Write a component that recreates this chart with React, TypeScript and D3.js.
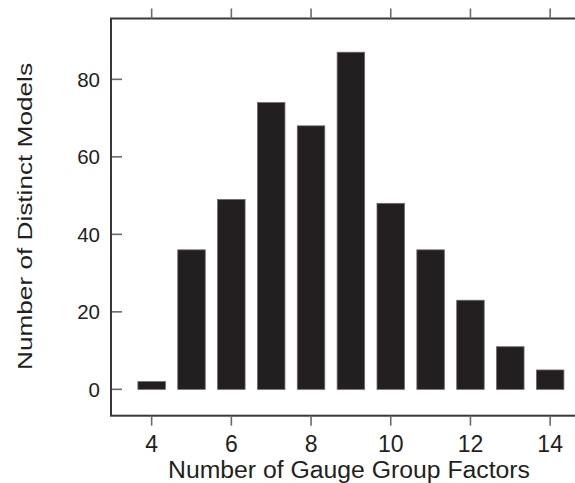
import React from "react";
import * as d3 from "d3";

// histogram: how many distinct models per number of gauge group factors
const factors = [4, 5, 6, 7, 8, 9, 10, 11, 12, 13, 14];
const models = [2, 36, 49, 74, 68, 87, 48, 36, 23, 11, 5];
const xTicks = [4, 6, 8, 10, 12, 14];
const yTicks = [0, 20, 40, 60, 80];
const xTitle = "Number of Gauge Group Factors";
const yTitle = "Number of Distinct Models";

export default function App() {
  const width = 575;
  const height = 483;
  const panel = { left: 111, top: 18.5, right: 590, bottom: 415.7 };
  const ink = "#231f20";
  const font = "'Liberation Sans', Arial, sans-serif";

  const x = d3.scaleLinear().domain([2.98, 15.0]).range([panel.left, panel.right]);
  const y = d3.scaleLinear().domain([-6.8, 95.7]).range([panel.bottom, panel.top]);
  const barW = x(0.69) - x(0);

  return (
    <svg
      width={width}
      height={height}
      style={{ position: "absolute", left: 0, top: 0, background: "#fff" }}
    >
      {/* bars */}
      {factors.map((f, i) => (
        <rect
          key={f}
          x={x(f) - barW / 2}
          y={y(models[i])}
          width={barW}
          height={y(0) - y(models[i])}
          fill={ink}
          stroke="#6d6a6b"
          strokeWidth={0.8}
        />
      ))}

      {/* panel box, right side runs off the page */}
      <rect
        x={panel.left}
        y={panel.top}
        width={panel.right - panel.left}
        height={panel.bottom - panel.top}
        fill="none"
        stroke="#3a3738"
        strokeWidth={2}
      />

      {/* x ticks top and bottom, outside */}
      {xTicks.map((t) => (
        <g key={t}>
          <line x1={x(t)} x2={x(t)} y1={panel.top - 10} y2={panel.top} stroke="#6d6a6b" strokeWidth={1.6} />
          <line x1={x(t)} x2={x(t)} y1={panel.bottom} y2={panel.bottom + 10} stroke="#6d6a6b" strokeWidth={1.6} />
          <text
            x={x(t)}
            y={451.5}
            textAnchor="middle"
            fontFamily={font}
            fontSize={23}
            fill={ink}
          >
            {t}
          </text>
        </g>
      ))}

      {/* y ticks point into the panel */}
      {yTicks.map((t) => (
        <g key={t}>
          <line x1={panel.left + 1} x2={panel.left + 11} y1={y(t)} y2={y(t)} stroke="#6d6a6b" strokeWidth={1.6} />
          <text
            x={100}
            y={y(t) + 7.2}
            textAnchor="end"
            fontFamily={font}
            fontSize={20.5}
            fill={ink}
          >
            {t}
          </text>
        </g>
      ))}

      <text
        x={349}
        y={477.5}
        textAnchor="middle"
        fontFamily={font}
        fontSize={23}
        textLength={362}
        lengthAdjust="spacingAndGlyphs"
        fill={ink}
      >
        {xTitle}
      </text>
      <text
        transform="translate(32, 216.5) rotate(-90)"
        textAnchor="middle"
        fontFamily={font}
        fontSize={21}
        textLength={307}
        lengthAdjust="spacingAndGlyphs"
        fill={ink}
      >
        {yTitle}
      </text>
    </svg>
  );
}
